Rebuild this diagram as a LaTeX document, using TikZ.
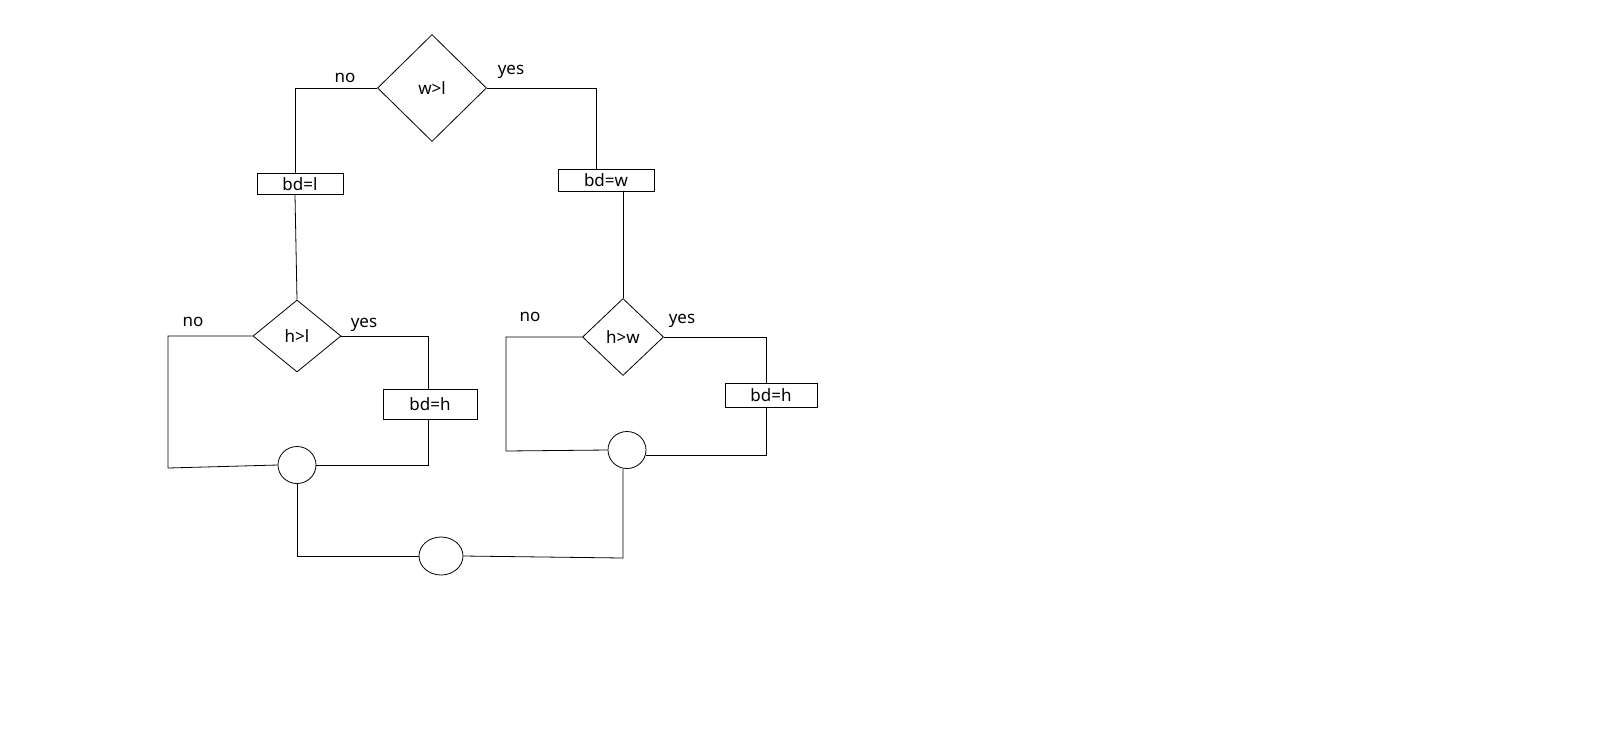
\documentclass[tikz,border=0pt]{standalone}
\usepackage{fontspec}
\setmainfont{Noto Sans}
\usetikzlibrary{shapes.geometric}
\begin{document}
\begin{tikzpicture}[x=1pt,y=-1pt,line width=0.8pt,
  dia/.style={draw,diamond,inner sep=0pt},
  boxn/.style={draw,rectangle,inner sep=0pt,font=\fontsize{17}{17}\selectfont},
  circ/.style={draw,ellipse,inner sep=0pt},
  lbl/.style={font=\fontsize{17}{17}\selectfont}]
\useasboundingbox (0,0) rectangle (1600,729);
\node[dia,minimum width=109pt,minimum height=107pt,lbl] (d1) at (432,88) {w>l};
\node[lbl] at (345,78) {no};
\node[lbl] at (511,72) {yes};
\node[boxn,minimum width=86pt,minimum height=21pt] (b1) at (300,184) {bd=l};
\node[boxn,minimum width=96pt,minimum height=22pt] (b2) at (606,180) {bd=w};
\node[dia,minimum width=88pt,minimum height=72pt,lbl] (d2) at (297,336) {h>l};
\node[lbl] at (193,322) {no};
\node[lbl] at (364,325) {yes};
\node[dia,minimum width=81pt,minimum height=77pt,lbl] (d3) at (623,337) {h>w};
\node[lbl] at (530,317) {no};
\node[lbl] at (682,321) {yes};
\node[boxn,minimum width=94pt,minimum height=30pt] (b3) at (430,404) {bd=h};
\node[boxn,minimum width=92pt,minimum height=24pt] (b4) at (771,395) {bd=h};
\node[circ,minimum width=38pt,minimum height=37pt] (c1) at (297,465) {};
\node[circ,minimum width=38pt,minimum height=37pt] (c2) at (627,450) {};
\node[circ,minimum width=44pt,minimum height=38pt] (c3) at (441,556) {};
\draw (d1.west) -- (295,88) -- (b1.north -| 295,0);
\draw (b1.south -| 295,0) -- (d2.north);
\draw (d1.east) -- (596,88) -- (b2.north -| 596,0);
\draw (b2.south -| 623,0) -- (d3.north);
\draw (d2.west) -- (168,336) -- (168,468) -- (c1.west);
\draw (d2.east) -- (428,336) -- (b3.north -| 428,0);
\draw (b3.south -| 428,0) -- (428,465) -- (c1.east);
\draw (d3.west) -- (506,337) -- (506,451) -- (c2.west);
\draw (d3.east) -- (766,337) -- (b4.north -| 766,0);
\draw (b4.south -| 766,0) -- (766,455) -- (646,455);
\draw (c1.south) -- (297,556) -- (c3.west);
\draw (c2.south -| 623,0) -- (623,558) -- (c3.east);
\end{tikzpicture}
\end{document}
